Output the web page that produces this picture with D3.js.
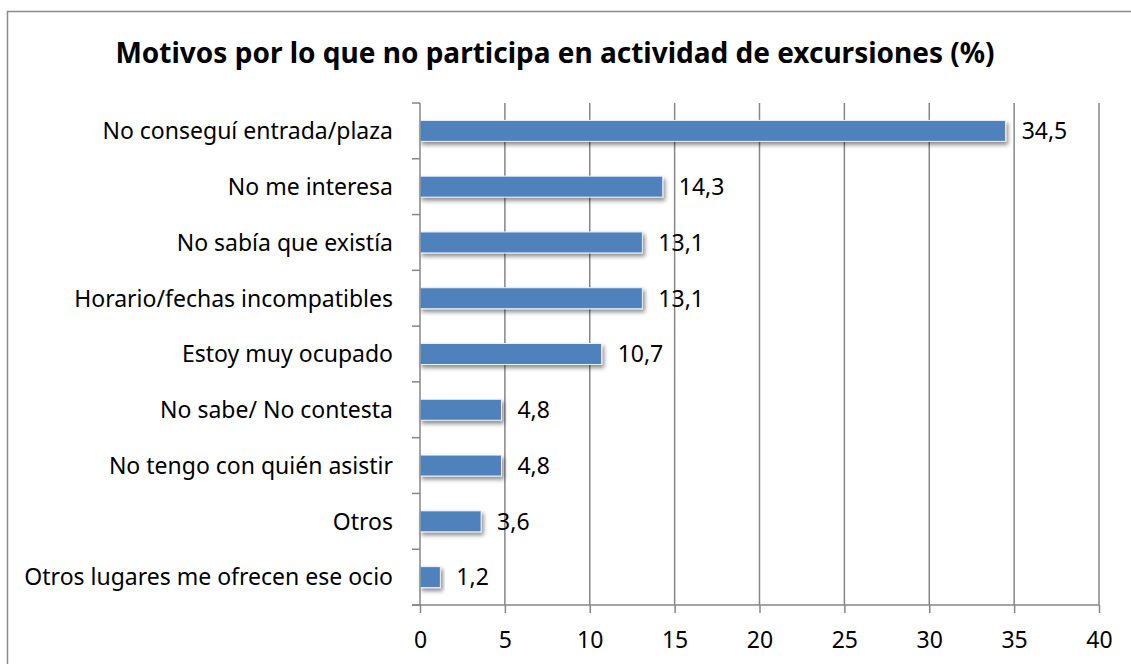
<!DOCTYPE html>
<html lang="es">
<head>
<meta charset="UTF-8">
<title>Motivos por lo que no participa en actividad de excursiones</title>
<script src="https://d3js.org/d3.v7.min.js"></script>
<style>
  body { margin: 0; background: #fff; }
  text { font-family: "Noto Sans", sans-serif; fill: #000; }
</style>
</head>
<body>
<div id="chart"></div>
<script>
  const categories = [
    "No conseguí entrada/plaza",
    "No me interesa",
    "No sabía que existía",
    "Horario/fechas incompatibles",
    "Estoy muy ocupado",
    "No sabe/ No contesta",
    "No tengo con quién asistir",
    "Otros ",
    "Otros lugares me ofrecen ese ocio"
  ];
  const values = [34.5, 14.3, 13.1, 13.1, 10.7, 4.8, 4.8, 3.6, 1.2];
  const xTicks = [0, 5, 10, 15, 20, 25, 30, 35, 40];
  const title = "Motivos por lo que no participa en actividad de excursiones (%)";

  const W = 1131, H = 664;
  const margin = { top: 103, right: 32, bottom: 59, left: 420 };
  const width = W - margin.left - margin.right;
  const height = H - margin.top - margin.bottom;
  const gridColor = "#868686";
  const fs = "23px";

  const svg = d3.select("#chart").append("svg")
    .attr("width", W)
    .attr("height", H);

  // drop shadow for bars
  const defs = svg.append("defs");
  const f = defs.append("filter").attr("id", "shadow")
    .attr("x", "-10%").attr("y", "-30%").attr("width", "130%").attr("height", "190%");
  f.append("feDropShadow")
    .attr("dx", 2).attr("dy", 3).attr("stdDeviation", 2)
    .attr("flood-color", "#000").attr("flood-opacity", 0.45);

  // outer border (only left/top visible in the picture)
  svg.append("rect")
    .attr("x", 7.5).attr("y", 11.5)
    .attr("width", W + 20).attr("height", H + 20)
    .attr("fill", "none")
    .attr("stroke", "#8a8a8a")
    .attr("stroke-width", 1.5);

  svg.append("text")
    .attr("x", 555)
    .attr("y", 63)
    .attr("text-anchor", "middle")
    .style("font-size", "28px")
    .style("font-weight", "bold")
    .text(title);

  const g = svg.append("g").attr("transform", `translate(${margin.left},${margin.top})`);

  const x = d3.scaleLinear().domain([0, 40]).range([0, width]);
  const y = d3.scaleBand().domain(categories).range([0, height])
    .paddingInner(0.624).paddingOuter(0.312);

  // vertical gridlines
  g.selectAll(".grid")
    .data(xTicks.slice(1))
    .enter().append("line")
    .attr("class", "grid")
    .attr("x1", d => x(d)).attr("x2", d => x(d))
    .attr("y1", 0).attr("y2", height)
    .attr("stroke", gridColor)
    .attr("stroke-width", 1.5);

  // bars
  g.selectAll(".bar")
    .data(values)
    .enter().append("rect")
    .attr("class", "bar")
    .attr("x", x(0))
    .attr("y", (d, i) => y(categories[i]))
    .attr("width", d => x(d) - x(0))
    .attr("height", y.bandwidth())
    .attr("fill", "#4F81BD")
    .attr("stroke", "#eef2f8")
    .attr("stroke-width", 1)
    .attr("filter", "url(#shadow)");

  // value labels
  g.selectAll(".val")
    .data(values)
    .enter().append("text")
    .attr("class", "val")
    .attr("x", d => x(d) + 16)
    .attr("y", (d, i) => y(categories[i]) + y.bandwidth() / 2)
    .attr("dy", "0.36em")
    .style("font-size", fs)
    .text(d => d.toFixed(1).replace(".", ","));

  // y axis (category)
  const yAxis = g.append("g");
  yAxis.append("line")
    .attr("x1", 0).attr("x2", 0).attr("y1", 0).attr("y2", height)
    .attr("stroke", gridColor).attr("stroke-width", 1.5);
  const bounds = categories.map(c => y(c) - y.step() * y.paddingInner() / 2);
  bounds[0] = 0;
  yAxis.selectAll(".ytick")
    .data(bounds.concat([height]))
    .enter().append("line")
    .attr("x1", -8).attr("x2", 0)
    .attr("y1", d => d).attr("y2", d => d)
    .attr("stroke", gridColor).attr("stroke-width", 1.5);
  yAxis.selectAll(".ylab")
    .data(categories)
    .enter().append("text")
    .attr("x", -27)
    .attr("y", d => y(d) + y.bandwidth() / 2)
    .attr("dy", "0.36em")
    .attr("text-anchor", "end")
    .style("font-size", fs)
    .text(d => d);

  // x axis
  const xAxis = g.append("g")
    .attr("transform", `translate(0,${height})`)
    .call(d3.axisBottom(x).tickValues(xTicks).tickSize(8).tickPadding(19).tickFormat(d3.format("d")));
  xAxis.select(".domain").remove();
  xAxis.selectAll(".tick line").attr("stroke", gridColor).attr("stroke-width", 1.5);
  xAxis.selectAll(".tick text").style("font-size", fs).style("font-family", "'Noto Sans', sans-serif").attr("fill", "#000");
  xAxis.append("line")
    .attr("x1", -8).attr("x2", width).attr("y1", 0).attr("y2", 0)
    .attr("stroke", gridColor).attr("stroke-width", 1.5);
</script>
</body>
</html>
